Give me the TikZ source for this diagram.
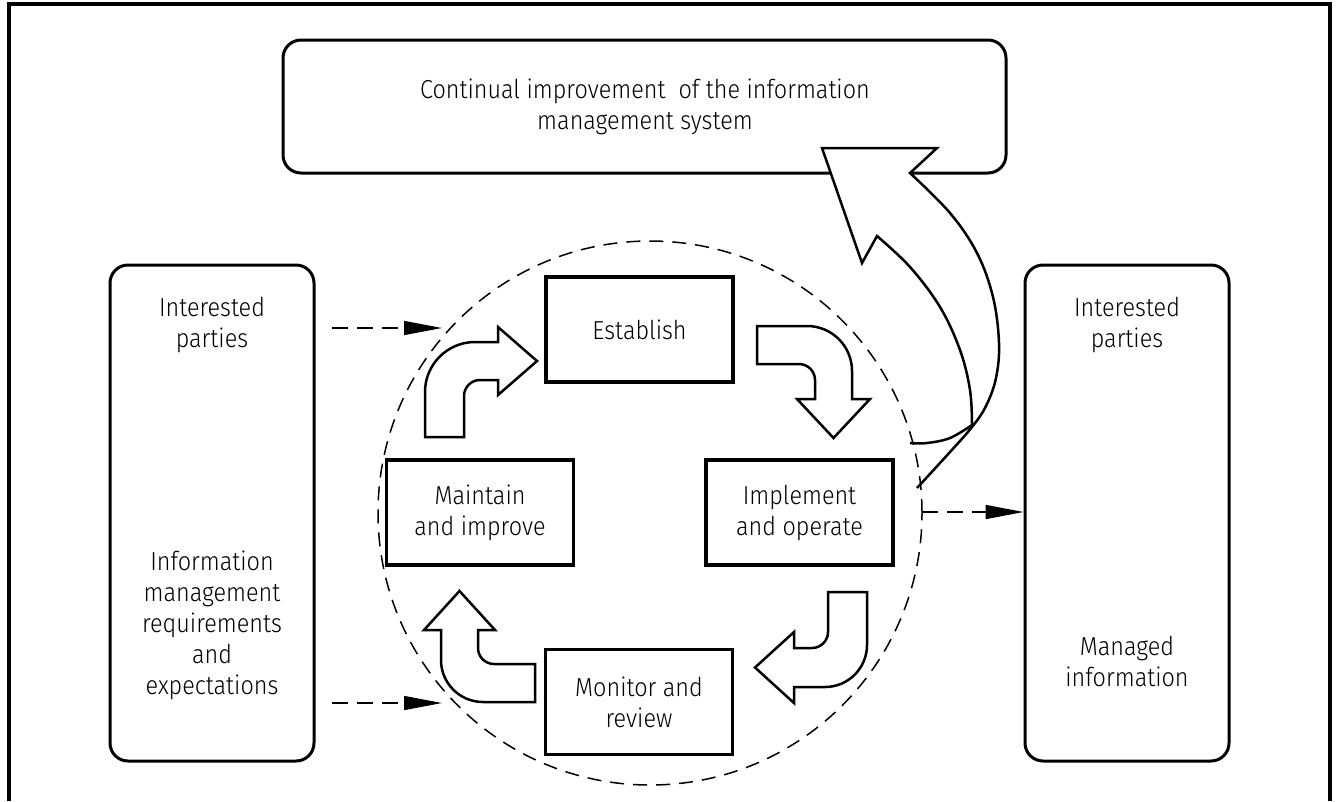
\documentclass[tikz,border=0pt]{standalone}
\usepackage{fontspec}
\setmainfont{Fira Sans}[UprightFont={* Light}, FakeStretch=0.9]
\usetikzlibrary{arrows.meta}
\begin{document}
\begin{tikzpicture}[x=1pt,y=-1pt,
  rbox/.style={draw, line width=3pt, rounded corners=18pt, inner sep=0pt},
  sbox/.style={draw, line width=3.5pt, fill=white, minimum width=187pt, minimum height=105pt, inner sep=0pt, align=center, font=\fontsize{26}{31}\selectfont},
  blk/.style={draw, line width=2.5pt, fill=white, line join=miter},
  txt/.style={align=center, font=\fontsize{26}{31}\selectfont, inner sep=0pt},
  dsh/.style={line width=1.5pt, dash pattern=on 16pt off 9pt, -{Triangle[length=38pt,width=14pt,sep=0pt]}},
]
\useasboundingbox (0,0) rectangle (1337,801);
% frame
\draw[line width=3.5pt] (9,801) -- (9,4) -- (1330,4) -- (1330,801);
% top box
\node[rbox, minimum width=723pt, minimum height=133pt] (top) at (644.5,106.5) {};
\node[txt] (toptxt) at (645,107) {Continual improvement~ of the information\\management system};
% side boxes
\node[rbox, minimum width=204pt, minimum height=496pt] (L) at (212,513) {};
\node[rbox, minimum width=204pt, minimum height=496pt] (R) at (1127,513) {};
\node[txt] (Lt1) at (212,325) {Interested\\parties};
\node[txt] (Lt2) at (212,625) {Information\\management\\requirements\\and\\expectations};
\node[txt] (Rt1) at (1127,325) {Interested\\parties};
\node[txt] (Rt2) at (1127,661) {Managed\\information};
% big improvement arrow
\draw[blk] plot[smooth, tension=0.6] coordinates {(917,488) (950,452) (972,427) (986,406) (996,378) (999,343) (993,297) (977,253) (950,213) (910,173)}
  -- (937,148) -- (822,148) -- (862,263) -- (877,236)
  -- plot[smooth, tension=0.6] coordinates {(877,236) (910,267) (940,307) (960,350) (970,390) (972,425)}
  -- plot[smooth, tension=0.6] coordinates {(972,425) (950,438) (927,443) (910,443)};
% dashed circle
\node[draw, circle, line width=1.5pt, dash pattern=on 14pt off 9pt, minimum size=544pt, inner sep=0pt] (C) at (650,513) {};
% process boxes
\node[sbox] (E) at (639.5,329.5) {Establish};
\node[sbox] (Ma) at (480,512.5) {Maintain\\and improve};
\node[sbox] (I) at (799.5,512.5) {Implement\\and operate};
\node[sbox] (Mo) at (639,702) {Monitor and\\review};
% block arrows
\draw[blk] (425,437) -- (425,392) .. controls (425,364.4) and (447.4,342) .. (475,342) -- (498,342) -- (498,327) -- (537,361) -- (498,395) -- (498,380) -- (480,380) .. controls (471.2,380) and (464,387.2) .. (464,396) -- (464,437) -- cycle;
\draw[blk] (757,326) -- (807,326) .. controls (831.9,326) and (852,346.1) .. (852,371) -- (852,399) -- (870,399) -- (833.5,438) -- (797,399) -- (815,399) -- (815,380) .. controls (815,371.2) and (807.8,364) .. (799,364) -- (757,364) -- cycle;
\draw[blk] (828,592) -- (867,592) -- (867,645) .. controls (867,668.2) and (848.2,687) .. (825,687) -- (794,687) -- (794,703) -- (755,667.5) -- (794,632) -- (794,648) -- (812,648) .. controls (820.8,648) and (828,640.8) .. (828,632) -- cycle;
\draw[blk] (535,702) -- (483,702) .. controls (459.8,702) and (441,683.2) .. (441,660) -- (441,630) -- (424,630) -- (459.5,591) -- (495,630) -- (478,630) -- (478,648) .. controls (478,656.8) and (485.2,664) .. (494,664) -- (535,664) -- cycle;
% dashed arrows
\coordinate (a1s) at (332,328); \coordinate (a1e) at (442,328);
\coordinate (a2s) at (332,703); \coordinate (a2e) at (442,703);
\coordinate (a3s) at (922,512);
\draw[dsh] (a1s) -- (a1e);
\draw[dsh] (a2s) -- (a2e);
\draw[dsh] (a3s) -- (R.west |- a3s);
\end{tikzpicture}
\end{document}
